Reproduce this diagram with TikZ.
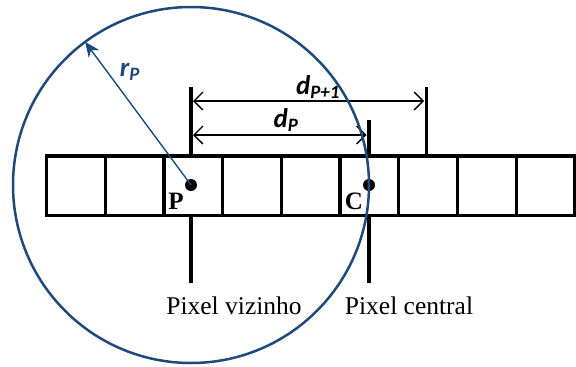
\documentclass[tikz,border=0pt]{standalone}
\usepackage{fontspec}
\setmainfont{Liberation Serif}
\newfontfamily\labelfont{Carlito}
\usepackage{xcolor}
\usetikzlibrary{arrows.meta,positioning,calc}

\definecolor{circblue}{RGB}{31,73,125}

\begin{document}
\begin{tikzpicture}[x=1pt,y=-1pt,
    cell/.style={draw=black,line width=3.2pt},
    marker/.style={draw=black,line width=3.2pt},
    dim/.style={draw=black,line width=1.4pt,{Straight Barb[length=9pt,width=18pt,line width=1.4pt]}-{Straight Barb[length=9pt,width=18pt,line width=1.4pt]}},
    dot/.style={circle,fill=black,inner sep=0pt,minimum size=12pt},
    dimlbl/.style={font=\labelfont\bfseries\itshape\fontsize{27}{30}\selectfont},
    ptlbl/.style={font=\bfseries\fontsize{25}{28}\selectfont},
    pixlbl/.style={font=\fontsize{25.5}{28}\selectfont}]

  \useasboundingbox (0,0) rectangle (576,367);

  % Row of pixels
  \foreach \i in {0,...,8} {
    \draw[cell] ({46.5+58.7*\i},156) rectangle ++(58.7,59.5);
  }

  % Pixel centres
  \node[dot] (p) at (191,185) {};
  \node[dot] (c) at (369,185) {};
  \node[ptlbl] (plbl) at (176,201) {P};
  \node[ptlbl] (clbl) at (354,201) {C};

  % Marker lines
  \coordinate (ptop) at (191,87);
  \coordinate (pbot) at (191,283);
  \coordinate (ctop) at (369,120);
  \coordinate (cbot) at (369,283);
  \coordinate (ntop) at (426.5,87);
  \coordinate (nbot) at (426.5,156);
  \draw[marker] (ptop) -- (191,156);
  \draw[marker] (191,215.5) -- (pbot);
  \draw[marker] (ctop) -- (369,156);
  \draw[marker] (369,215.5) -- (cbot);
  \draw[marker] (ntop) -- (nbot);

  % Distances
  \draw[dim] (193,101) -- (424,101);
  \draw[dim] (193,135) -- (366.5,135);
  \node[dimlbl] (dpone) at (318,87) {d\textsubscript{P+1}};
  \node[dimlbl] (dp) at (286,120) {d\textsubscript{P}};

  % Search circle
  \draw[circblue,line width=2.5pt] (p) circle (178);
  \coordinate (rend) at ($(p)+(-126.5:178)$);
  \draw[circblue,line width=1.4pt,-{Stealth[length=15pt,width=13pt]}] (p.center) -- (rend);
  \node[dimlbl,text=circblue] (rlbl) at (130,72) {r\textsubscript{P}};

  % Labels
  \node[pixlbl] (viz) at (234,306) {Pixel vizinho};
  \node[pixlbl] (cen) at (409,306) {Pixel central};

\end{tikzpicture}
\end{document}
